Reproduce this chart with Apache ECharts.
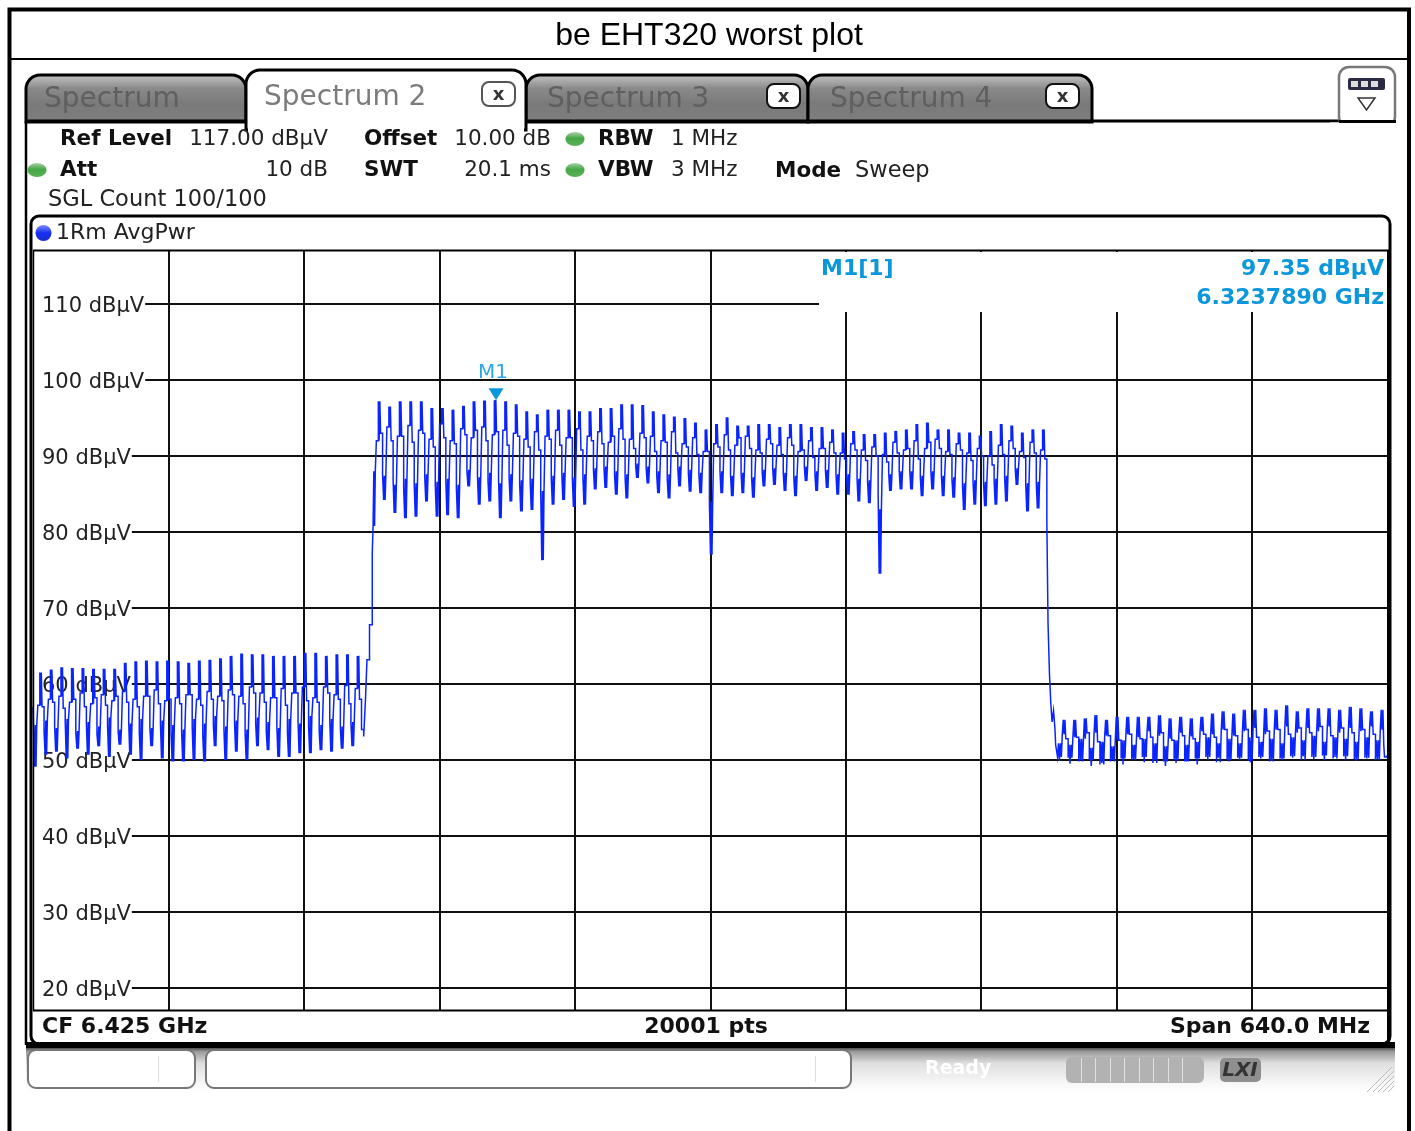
<!DOCTYPE html>
<html><head><meta charset="utf-8"><style>html,body{margin:0;padding:0;background:#fff}#c{width:1415px;height:1131px}</style>
<script src="https://cdn.jsdelivr.net/npm/echarts@6/dist/echarts.min.js"></script></head>
<body><div id="c"></div>
<script>
// ---- axis: MHz offset from centre frequency 6.425 GHz, level dBuV
const levelTicks = [20,30,40,50,60,70,80,90,100,110];
const markerOffset = -101.211, markerLevel = 97.35;

// low band (one entry per ripple period)
const lowStart = [57.0];
const lowTrough = [49.1,50.7,51.1,50.2,51.5,50.7,51.8,50.4,52,50.7,50,51.8,50.2,49.8,49.8,50,49.8,51.8,50,51.1,50,51.8,51.3,50.4,50.4,50.9,50.9,51.3,51.1,51.5,51.8];
const lowShelfUp = [54.6,55.2,54.2,55.4,53.8,55,54.4,55.6,54,54.8,55.4,54.2,55.2,54.6,54,55.4,54.8,55.8,54.4,55.2,54,55.6,55,54.2,55.4,54.8,55.8,54.6,55.4,54.4,55];
const lowUp = [57.2,58,58.4,57.6,58.8,57.4,58.6,57.8,59,58,58.4,59.2,57.8,58.2,58.6,58,59,58.4,59.2,58.4,59.6,58.8,58.2,59.4,58.8,59.6,58.2,59.6,58.6,59.8,59.4];
const lowPeak = [61.5,61.9,62.2,62.1,62.1,62,62,62,62.8,63,63.1,63,63.1,63,62.8,63.1,63.2,63.4,63.7,64,63.9,63.9,63.7,63.7,63.7,64.1,64.1,63.7,63.9,63.9,63.7];
const lowDown = [57,57.6,56.8,58,57,58.2,57.2,58.4,57.6,57,58.4,57.4,58,57.4,58.6,57.2,58,57.8,58.6,57.4,58.8,57.6,58.2,57.2,58.8,57.8,57.6,58.8,58,57.4,58];
const lowShelfDown = [53.8,54.4,55,53.6,54.8,53.4,54.6,53.8,55,53.6,54.2,54.8,53.6,53.8,54.4,53.2,54.6,54,55,53.6,54.8,53.8,54.4,53.6,55,54.4,53.8,55.2,54.2,54.8,54];

// rising edge
const riseOffset = [-163.75,-162.9,-162.2,-161,-159.7];
const riseLevel = [53.1,58,63.2,67.8,77.2];

// channel
const chanTrough = [80.8,84.2,82.5,81.8,82,84,82,82.2,81.8,86,83.6,84,81.8,84,82.7,82.9,76.3,83.6,84.2,83.3,83.6,85.6,85.8,84.9,84.4,87.1,86.4,85.1,84.4,86,85.3,
  85.1,77,85.1,84.7,85.1,84.5,86,86.2,85.4,84.7,86.7,85.4,85.8,84.9,84.9,84,83.8,74.5,85.4,85.6,85.6,84.7,85.6,84.7,84.5,82.9,83.6,83.4,83.6,84,86.2,82.7,83.1];
const chanShelfUp = [88,87.4,86.2,87,86.4,87.6,86.6,87,86.2,88.2,87.2,87.8,86.4,87.6,86.8,87,85.4,87.4,87.8,87.2,87.6,88.4,88.6,88,87.6,89,88.6,88,87.6,88.6,88.2,
  87.8,84,88,87.4,87.8,87.2,88.2,88.4,87.8,87.4,88.6,88,88.2,87.6,87.6,87,86.8,83,87.6,88,88,87.4,88,87.4,87.2,86.4,86.8,86.6,87,87.4,88.4,86.4,86.6];
const chanUp = [92,93.8,92.6,94,93.4,92.2,94.2,92,93.6,92.4,93.8,92.8,93.4,93,92.2,93.2,92.6,93.4,92.4,93.6,92.6,93.2,91.8,93.6,92.2,93,92.6,92,93.2,91.6,92.4,90.6,
  91.6,92.8,91.4,92.6,90.8,92.2,91.4,92.4,90.6,92,91,91.8,90.4,91.6,90.8,91.2,90.2,91.8,90.8,92,91,92.2,90.6,91.6,90.4,91,90,91.4,92,90.6,91.8,90.8];
const chanPeak = [97.2,96.5,97.2,97.2,97.2,96.3,96.3,96.1,96.6,97.2,97.3,97.35,97.2,96.8,95.9,95.5,96.1,96.1,96.1,95.9,95.9,96.3,96.3,96.8,96.8,96.7,95.9,95.5,95.2,95,94.4,
  93.5,94.2,95.1,94,94,94.2,94.2,93.8,94.2,94.2,93.8,93.8,93.5,93.1,93.3,92.9,92.9,93.1,93.3,93.5,94.2,94.4,93.5,93.5,93.1,93.1,92.7,93.3,94.2,94,93.1,93.5,93.5];
const chanDown = [93,92,92.6,91.8,93,91.2,92.4,91.6,92.8,93.4,92,93.2,91.4,92.6,91.2,90.8,92.2,91.4,92.4,90.8,92,91.6,92.6,92.2,91,92.4,90.6,91.8,90.4,91.2,90.2,90.6,
  91.2,90.8,92.4,91,90.4,91.6,90.2,91.4,90.8,89.8,91,90.4,89.6,90.8,89.4,90,89.2,90.4,91,89.6,91.8,91,90.2,90.8,89.4,90,88.8,90.2,91,89.8,90.4,89.6];
const chanShelfDown = [87.6,86.8,85.8,86.4,87.2,86.2,86.8,85.8,88,87.4,86.6,87,87.2,86.4,86.6,85.2,87,87.6,87,87.2,88.2,88.4,87.6,87.2,88.8,88.4,87.6,87,88.4,87.8,87.6,
  83.8,88,87.6,87.8,87.2,88,88.4,87.8,87.2,88.6,87.8,88.2,87.6,87.4,87,86.6,85,87.8,88,88,87.2,88,87.4,87,86.2,86.6,86.4,86.8,87.2,88.4,86.2,86.4,81.4];

// falling edge
const fallOffset = [159.6,160.3,160.9,161.5,162.2,162.9,163.2];
const fallLevel = [68,61.2,57.5,55,56.5,54,52];

// high band
const highTrough = [50.4,50.3,49.8,50,49.4,49.8,50.2,50,50.4,49.6,49.8,50,49.8,50.2,50.4,49.7,50,50.3,49.9,50.4,49.8,50.2,50.5,50,50.4,50.6,50.2,50.5,50.1,50.3,50];
const highBump = [52.2,52,52.8,51.6,52.4,51.8,52.6,52,52.8,52.2,51.8,52.6,52,52.4,53,52.2,52.8,52.2,53,52.4,52.8,52.2,53,52.6,53.2,52.4,53,52.8,52.4,53,52.6];
const highDip = [49.9,49.5,50,49.2,49.6,50,49.4,50.1,49.7,50,49.2,49.6,49.8,49.4,50,50.3,49.8,50,49.7,50.2,49.9,50,50.3,50.5,50.1,50,50.4,50,49.9,50.2,50.1];
const highUp = [53.4,53,52.8,53.6,53.2,52.6,53.4,53,53.8,53.2,52.8,53.6,53.1,53.8,53.4,54,53.2,53.8,54.2,53.4,54,54.4,53.6,54.2,53.8,54.4,53.6,54.2,53.8,54.4,54];
const highPeak = [55.3,55.3,55.5,55.9,55.3,55.7,55.7,55.7,55.7,55.9,55.5,55.7,55.5,55.7,56.1,56.4,56.1,56.6,56.6,56.8,56.6,57.2,56.4,56.8,56.8,56.8,56.6,57,56.8,56.4,56.6];
const highDown = [52.8,53,53.6,52.4,53.2,52.6,53.4,52.8,53,53.6,52.6,53.2,52.8,53.4,53,54,53.2,54,53,53.8,54,53.4,54.2,53.6,54.4,53.2,54.2,53.6,54,53.4,52];
const tailOffset = [318.6,319.6];
const tailLevel = [50.4,50.6];

// ---- assemble trace: in each ripple period the sweep alternates quickly near peak and trough
const fracs10 = [.07,.07,.07,.10,.19,.07,.07,.07,.19,.10];
const fracsHigh = [.09,.09,.09,.09,.09,.09,.08,.08,.08,.22];
const trace = [];
const pushBand = (start, period, fracs, lists) => {
  for (let k = 0; k < lists[0].length; k++) {
    let x = start + k * period;
    lists.forEach((l, j) => { trace.push([x, l[k]]); x += fracs[j] * period; });
  }
};
trace.push([-320, lowStart[0]]);
pushBand(-319.275, 5, fracs10, [lowTrough, lowShelfUp, lowTrough, lowShelfUp, lowUp, lowPeak, lowUp, lowPeak, lowDown, lowShelfDown]);
riseOffset.forEach((x,i)=>trace.push([x,riseLevel[i]]));
pushBand(-159.31, 4.982, fracs10, [chanTrough, chanShelfUp, chanTrough, chanShelfUp, chanUp, chanPeak, chanUp, chanPeak, chanDown, chanShelfDown]);
fallOffset.forEach((x,i)=>trace.push([x,fallLevel[i]]));
pushBand(164.09, 5.008, fracsHigh, [highTrough, highBump, highDip, highBump, highTrough, highUp, highPeak, highUp, highPeak, highDown]);
tailOffset.forEach((x,i)=>trace.push([x,tailLevel[i]]));

// ---- chrome helpers
const Z = 5, els = [];
const F = '"DejaVu Sans"';
const txt = (x,y,text,font,fill='#1a1a1a',align='left') => els.push({type:'text',z:Z+2,silent:true,x,y:y+1,style:{text,font,fill,textAlign:align,textVerticalAlign:'middle'}});
const rect = (x,y,w,h,fill,stroke,lw,r,z=Z) => els.push({type:'rect',z,silent:true,shape:{x,y,width:w,height:h,r:r||0},style:{fill:fill||'none',stroke:stroke||'none',lineWidth:lw||0}});
const line = (x1,y1,x2,y2,stroke,lw,z=Z+1) => els.push({type:'line',z,silent:true,shape:{x1,y1,x2,y2},style:{stroke,lineWidth:lw}});
const grad = (stops) => ({type:'linear',x:0,y:0,x2:0,y2:1,colorStops:stops.map(([o,c])=>({offset:o,color:c}))});
const tabFill = grad([[0,'#c9c9c9'],[0.3,'#8a8a8a'],[0.6,'#7a7a7a'],[1,'#7e7e7e']]);
const led = (cx,cy)=>els.push({type:'ellipse',z:Z+1,silent:true,shape:{cx,cy,rx:9.5,ry:7},style:{fill:grad([[0,'#a9d0a9'],[0.45,'#45a845'],[1,'#5bb05b']])}});

// masks over the extended grid
rect(33,218,1356,32,'#fff');
rect(33,1011,1356,31,'#fff');
rect(819,252,568,60,'#fff');

// outer frame
els.push({type:'polyline',z:Z+1,silent:true,shape:{points:[[9.5,1131],[9.5,9.5],[1409,9.5],[1409,1131]]},style:{stroke:'#000',lineWidth:4,fill:'none'}});
line(10,59,1408,59,'#000',2);

// tabs
rect(26,75,220,47,tabFill,'#000',3,[14,14,0,0]);
rect(526,75,282,47,tabFill,'#000',3,[14,14,0,0]);
rect(808,75,284,47,tabFill,'#000',3,[14,14,0,0]);
line(526,121,1395,121,'#000',3);
line(26,121,246,121,'#000',3);
line(26,121,26,1045,'#000',2.5);
rect(246,70,280,60,'#fff','#000',3,[14,14,0,0],Z+1);
rect(248,118,276,14,'#fff',null,0,0,Z+1);
rect(249,123,274,10,'#fff',null,0,0,Z+1);
txt(44,99,'Spectrum','28px '+F,'#5f5f5f');
txt(264,97,'Spectrum 2','28px '+F,'#7c7c7c');
txt(547,99,'Spectrum 3','28px '+F,'#5f5f5f');
txt(830,99,'Spectrum 4','28px '+F,'#5f5f5f');
const closeBtn=(x,y,stroke)=>{rect(x,y,33,24,'#fff',stroke,2,7,Z+2);txt(x+16.5,y+12,'x','bold 18px '+F,'#333','center');};
closeBtn(482,82,'#555');closeBtn(767,84,'#111');closeBtn(1046,84,'#111');
// menu button
rect(1339,67,56,60,'#fff','#777',2.5,10,Z+1);
rect(1330,122.5,70,8,'#fff',null,0,0,Z+1);
line(1339,121.5,1396,121.5,'#000',3,Z+2);
rect(1348,78,37,12,'#2a2a44',null,0,2,Z+2);
rect(1351,81,7,6,'#ddd',null,0,0,Z+3);rect(1361,81,7,6,'#ddd',null,0,0,Z+3);rect(1371,81,7,6,'#ddd',null,0,0,Z+3);
els.push({type:'polygon',z:Z+2,silent:true,shape:{points:[[1358,98],[1375,98],[1366.5,110]]},style:{fill:'#fff',stroke:'#333',lineWidth:1.5}});

// header texts
const B='bold 21.5px '+F, R='21.5px '+F, RW='22.5px '+F;
txt(60,138,'Ref Level',B,'#111');txt(328,138,'117.00 dBµV',R,'#222','right');
txt(364,138,'Offset',B,'#111');txt(551,138,'10.00 dB',R,'#222','right');led(575,139);
txt(598,138,'RBW',B,'#111');txt(671,138,'1 MHz',R,'#222');
led(37,170);txt(60,169,'Att',B,'#111');txt(328,169,'10 dB',R,'#222','right');
txt(364,169,'SWT',B,'#111');txt(551,169,'20.1 ms',R,'#222','right');led(575,170);
txt(598,169,'VBW',B,'#111');txt(671,169,'3 MHz',R,'#222');
txt(775,170,'Mode',B,'#111');txt(855,170,'Sweep',RW,'#222');
txt(48,199,'SGL Count 100/100',RW,'#222');
// title
txt(709,35,'be EHT320 worst plot','32px "Liberation Sans"','#000','center');

// plot frame
rect(31,216,1359,828,'none','#000',3,[8,8,8,8],Z+1);
line(33,250.5,1389,250.5,'#000',2);
line(33,1010.5,1389,1010.5,'#000',2);
line(33.5,250,33.5,1011,'#000',1.5);
line(1388.5,250,1388.5,1042,'#000',3);
els.push({type:'circle',z:Z+1,silent:true,shape:{cx:43.5,cy:233,r:8},style:{fill:grad([[0,'#7f8cff'],[0.5,'#1630f0'],[1,'#1a2cd0']])}});
txt(56,232,'1Rm AvgPwr','22px '+F,'#222');

// marker readout
const C='#0b97dc', M='bold 22px '+F;
txt(821,268,'M1[1]',M,C);txt(1384,268,'97.35 dBµV',M,C,'right');txt(1384,297,'6.3237890 GHz',M,C,'right');

// footer
const FB='bold 22px '+F;
txt(42,1026,'CF 6.425 GHz',FB,'#111');txt(706,1026,'20001 pts',FB,'#111','center');txt(1370,1026,'Span 640.0 MHz',FB,'#111','right');

// status bar
rect(26,1042,1369,6,'#000',null,0,0,Z+3);
rect(26,1047,1369,46,grad([[0,'#3c3c3c'],[0.1,'#9a9a9a'],[0.35,'#dedede'],[0.8,'#f8f8f8'],[1,'#ffffff']]),null,0,0,Z);
rect(28,1050,167,38,'#fff','#777',2,8,Z+1);
rect(206,1050,645,38,'#fff','#777',2,8,Z+1);
line(158.5,1056,158.5,1082,'#ddd',1);line(815.5,1056,815.5,1082,'#ddd',1);
txt(925,1068,'Ready','bold 19px '+F,'#ffffff');
rect(1066,1057,138,26,'#b2b2b2',null,0,6,Z+1);
[1081,1095,1110,1124,1139,1153,1168,1182].forEach(x=>line(x+.5,1058,x+.5,1082,'#e2e2e2',1,Z+2));
rect(1220,1058,41,24,'#8f8f8f',null,0,5,Z+1);
txt(1240,1070,'LXI','italic bold 20px '+F,'#333','center');
[[1392,1067],[1394,1071],[1394,1076],[1394,1081],[1394,1086]].forEach(([x,y])=>line(x,y,x-(1092-y),1092,'#bbb',1));

const chart = echarts.init(document.getElementById('c'),null,{renderer:'canvas'});
chart.setOption({
  animation:false,
  grid:{left:33,right:27.5,top:228,bottom:67,containLabel:false},
  xAxis:{type:'value',min:-320,max:320,interval:64,
    axisLine:{show:false},axisTick:{show:false},axisLabel:{show:false},
    splitLine:{show:true,showMinLine:false,showMaxLine:false,lineStyle:{color:'#111',width:2}}},
  yAxis:{type:'value',min:10,max:120,interval:10,
    axisLine:{show:false},axisTick:{show:false},
    axisLabel:{inside:true,margin:0,color:'#222',
      backgroundColor:'#fff',padding:[0,1,0,9],
      rich:{a:{fontFamily:'DejaVu Sans',fontSize:21,color:'#222',padding:[5,0,0,0]}},
      formatter:v=>levelTicks.includes(v)?'{a|'+v+' dBµV}':''},
    splitLine:{show:true,lineStyle:{color:'#111',width:2}}},
  series:[{type:'line',name:'1Rm AvgPwr',data:trace,step:'end',showSymbol:false,symbol:'none',
    sampling:false,z:3,
    lineStyle:{color:'#0a24ff',width:1.5,join:'miter'},
    markPoint:{symbol:'triangle',symbolRotate:180,symbolSize:[15,12],symbolOffset:[0,-6],silent:true,
      itemStyle:{color:C},
      label:{show:true,position:'top',distance:4,offset:[-3,-1],formatter:'M1',color:'#2aa9ea',fontFamily:'DejaVu Sans',fontSize:20},
      data:[{coord:[markerOffset,markerLevel]}]}}],
  graphic:{elements:els}
});
</script></body></html>
